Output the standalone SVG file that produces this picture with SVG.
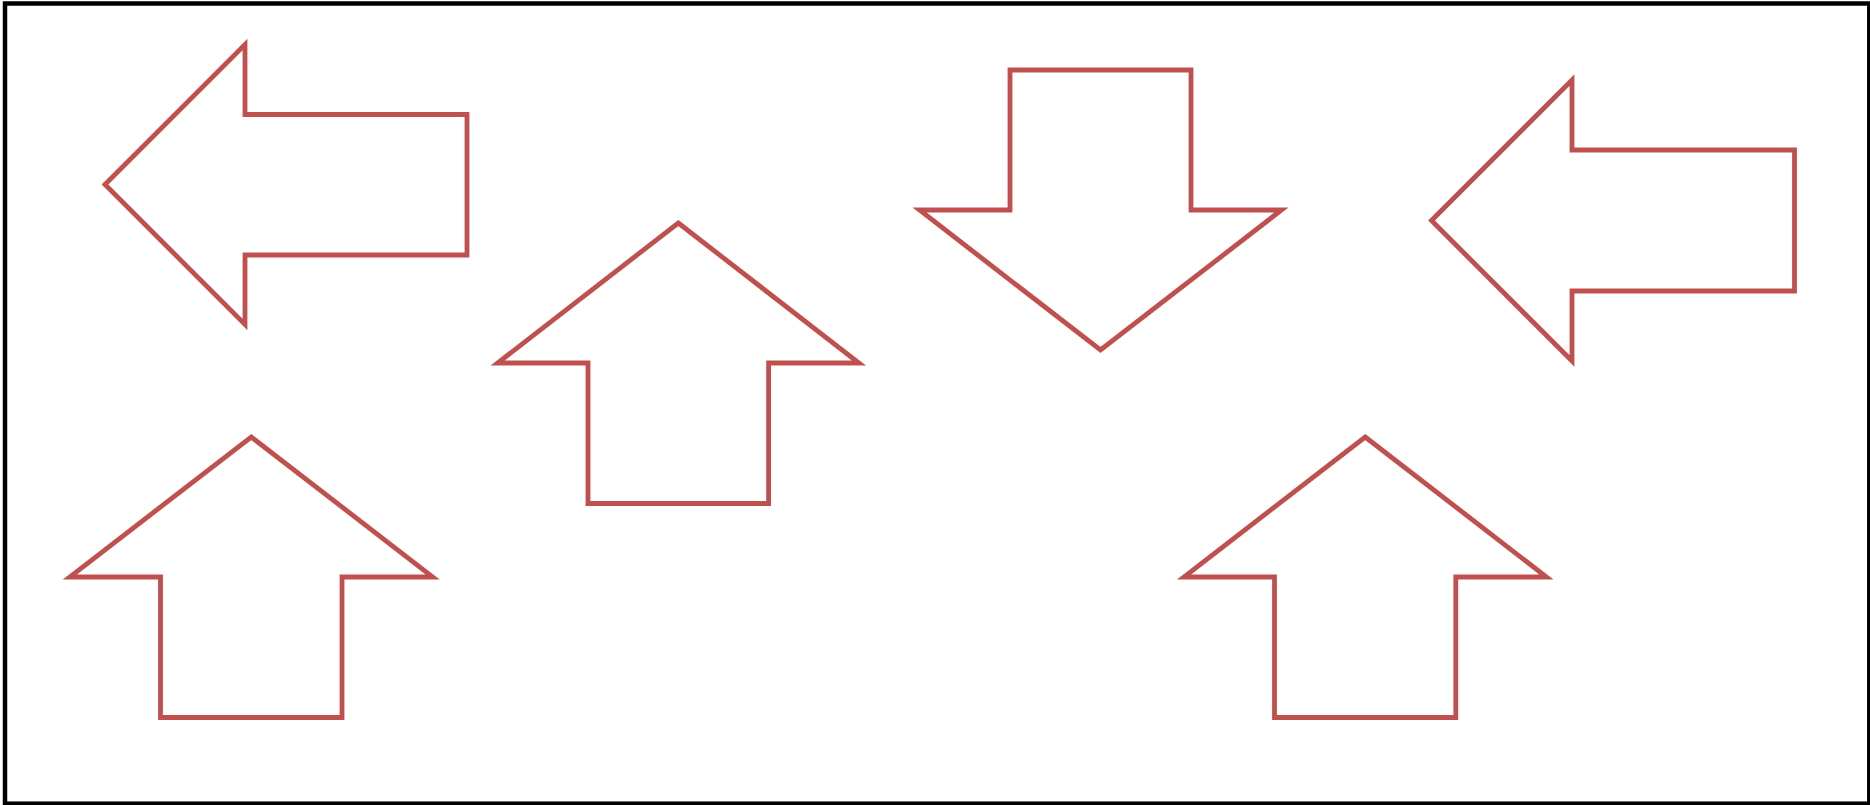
<svg xmlns="http://www.w3.org/2000/svg" width="1870" height="805" viewBox="0 0 1870 805">
<style>
.frame{fill:#ffffff;stroke:#000000;stroke-width:4.5}
.arrow{fill:#ffffff;stroke:#C0504D;stroke-width:4.8;stroke-miterlimit:10}
</style>
<rect class="frame" x="5" y="3.5" width="1864.3" height="800.2"/>
<g id="arrow-left-1">
<polygon class="arrow" points="105,184.5 245,44.5 245,114.5 467,114.5 467,255 245,255 245,324.5"/>
</g>
<g id="arrow-up-2">
<polygon class="arrow" points="678.3,223 859,363 768.6,363 768.6,503.5 588,503.5 588,363 497.6,363"/>
</g>
<g id="arrow-down-3">
<polygon class="arrow" points="1010,70 1191,70 1191,210 1281.5,210 1100.5,350 919.5,210 1010,210"/>
</g>
<g id="arrow-left-4">
<polygon class="arrow" points="1431.5,220.5 1572,80 1572,150 1794.5,150 1794.5,291 1572,291 1572,361"/>
</g>
<g id="arrow-up-5">
<polygon class="arrow" points="251.25,437 432.75,577 342,577 342,717.5 160.5,717.5 160.5,577 69.75,577"/>
</g>
<g id="arrow-up-6">
<polygon class="arrow" points="1365.2,437 1546.5,577 1455.8,577 1455.8,717.5 1274.5,717.5 1274.5,577 1183.9,577"/>
</g>
<g id="connectors"/>
</svg>
